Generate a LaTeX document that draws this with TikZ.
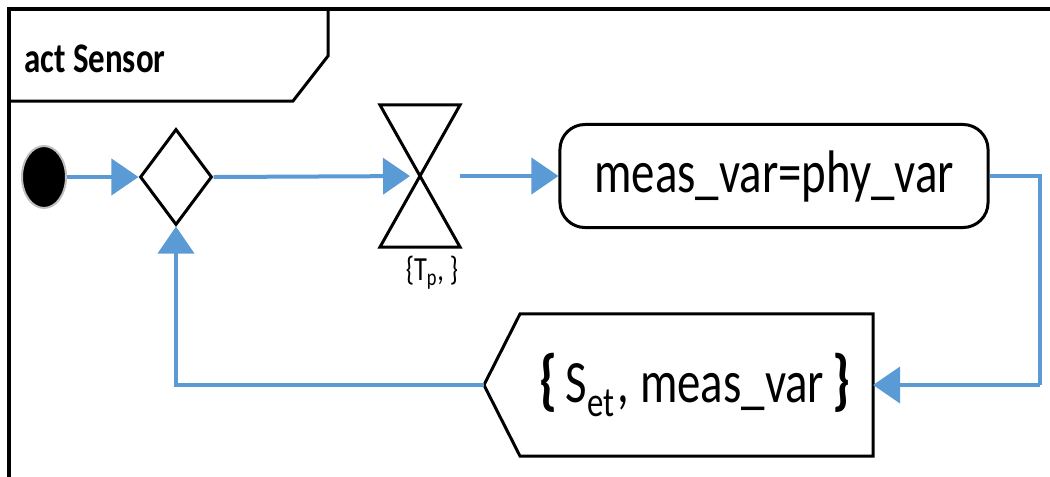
\documentclass[tikz,border=0pt]{standalone}
\usepackage{fontspec}
\setmainfont{Carlito}
\newfontfamily\cf[FakeStretch=0.78]{Carlito}
\usetikzlibrary{arrows.meta,shapes.geometric,calc}
\newcommand\pxu{0.7113pt}
\definecolor{flowblue}{RGB}{91,155,213}
\tikzset{
  flow/.style={draw=flowblue,line width=4*\pxu,-{Triangle[length=27*\pxu,width=36*\pxu]}},
  flowplain/.style={draw=flowblue,line width=4*\pxu},
  outline/.style={draw=black,line width=3*\pxu},
  bigtext/.style={font=\cf\fontsize{42.7}{50}\selectfont},
}
\begin{document}
\begin{tikzpicture}[x=0.025cm,y=-0.025cm]
\useasboundingbox (0,0) rectangle (1050,476);
% frame
\draw[line width=4*\pxu,line join=miter] (1052,9) -- (9,9) -- (9,478);
\draw[line width=3*\pxu,line join=miter] (9,101) -- (293,101) -- (328,56) -- (328,9);
\node[anchor=base west,inner sep=0,font=\cf\bfseries\fontsize{30}{36}\selectfont] (title) at (24,72) {act Sensor};
% nodes
\node[ellipse,fill=black,draw=black!25,line width=2*\pxu,minimum width=44*\pxu,minimum height=62*\pxu,inner sep=0] (init) at (44,177) {};
\node[diamond,outline,minimum width=72*\pxu,minimum height=96*\pxu,inner sep=0] (dec) at (176,177) {};
\node[minimum width=80*\pxu,minimum height=142*\pxu,inner sep=0,outer sep=0] (tm) at (420,176) {};
\draw[outline,line join=miter] (tm.north west) -- (tm.north east) -- (tm.south west) -- (tm.south east) -- cycle;
\node[anchor=north,inner sep=0,font=\cf\fontsize{24}{28}\selectfont] (tmlabel) at (432,256) {\{T\textsubscript{p}, \}};
\node[outline,rounded corners=25*\pxu,minimum width=428*\pxu,minimum height=103*\pxu,inner sep=0,bigtext] (act) at (774,176) {meas\_var=phy\_var};
\node[minimum width=389*\pxu,minimum height=142*\pxu,inner sep=0,outer sep=0] (sig) at (678.5,385) {};
\draw[outline,line join=miter] (sig.west) -- ($(sig.north west)+(36,0)$) -- (sig.north east) -- (sig.south east) -- ($(sig.south west)+(36,0)$) -- cycle;
\node[inner sep=0,bigtext] (sigl) at (695,385) {{\bfseries\fontsize{48}{50}\selectfont\{}\kern6pt S\textsubscript{et}\kern2pt, meas\_var\kern6pt{\bfseries\fontsize{48}{50}\selectfont\}}};
\coordinate (rc) at (1040,385);
% connectors
\draw[flow] (init.east) -- (dec.west);
\draw[flow,shorten >=10*\pxu] (dec.east) -- (tm.center);
\draw[flow] (tm.east) -- (act.west);
\draw[flowplain,line join=miter] (act.east) -| (rc);
\draw[flow] (rc) -- (sig.east);
\draw[flow] (sig.west) -| (dec.south);
\end{tikzpicture}
\end{document}
